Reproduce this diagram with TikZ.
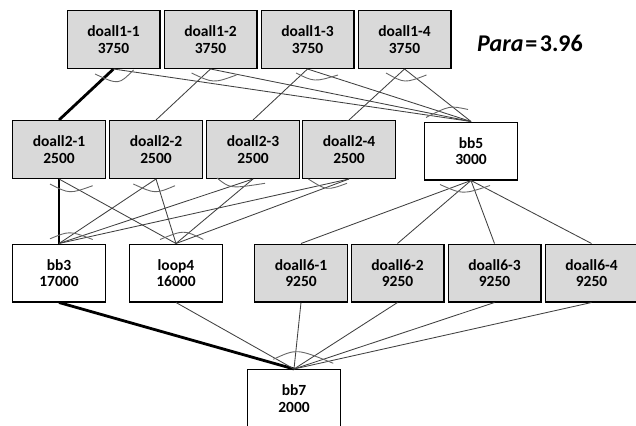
\documentclass[tikz,border=0pt]{standalone}
\usepackage{fontspec}
\setmainfont{Carlito}
\usetikzlibrary{calc}

% fork/join arc drawn round an anchor: start, middle and end offsets (pt, y down)
\newcommand\forkarc[4]{%
  \draw[andarc] ($(#1)+(#2)$) .. controls ($(#1)+1.3333*(#3)-0.1667*(#2)-0.1667*(#4)$) .. ($(#1)+(#4)$);}

\begin{document}
\begin{tikzpicture}[x=1pt,y=-1pt,
  task/.style={draw=black, line width=1.3pt, minimum width=92.7pt, minimum height=57.7pt,
    inner sep=0pt, align=center, font=\fontsize{15.5}{16.5}\selectfont\bfseries},
  partask/.style={task, fill=black!15},
  sertask/.style={task, fill=white},
  dep/.style={draw=black!75, line width=0.85pt},
  crit/.style={draw=black, line width=2.8pt},
  andarc/.style={draw=black!60, line width=0.9pt},
]
\useasboundingbox (0,0) rectangle (636,425);

% first stage
\node[partask] (d11) at (113.5,39.5) {doall1-1\\3750};
\node[partask] (d12) at (210.5,39.5) {doall1-2\\3750};
\node[partask] (d13) at (307.5,39.5) {doall1-3\\3750};
\node[partask] (d14) at (404.5,39.5) {doall1-4\\3750};

\node[anchor=base west, inner sep=0pt] (para) at (477,52)
  {\fontsize{24}{28}\selectfont\bfseries\textit{Para}\kern2pt=\kern2.5pt3.96};

% second stage
\node[partask] (d21) at (59,149.5) {doall2-1\\2500};
\node[partask] (d22) at (156,149.5) {doall2-2\\2500};
\node[partask] (d23) at (253,149.5) {doall2-3\\2500};
\node[partask] (d24) at (349,149.5) {doall2-4\\2500};
\node[sertask] (bb5) at (471,151) {bb5\\3000};

% third stage
\node[sertask] (bb3) at (59,273) {bb3\\17000};
\node[sertask] (loop4) at (176,273) {loop4\\16000};
\node[partask] (d61) at (301,273) {doall6-1\\9250};
\node[partask] (d62) at (397.5,273) {doall6-2\\9250};
\node[partask] (d63) at (494.5,273) {doall6-3\\9250};
\node[partask] (d64) at (591.5,273) {doall6-4\\9250};

% final block
\node[sertask] (bb7) at (294,398.5) {bb7\\2000};

% dependences, stage 1 -> stage 2
\draw[crit] (d11.south) -- (d21.north);
\draw[dep] (d11.south) -- (bb5.north);
\draw[dep] (d12.south) -- (d22.north);
\draw[dep] (d12.south) -- (bb5.north);
\draw[dep] (d13.south) -- (d23.north);
\draw[dep] (d13.south) -- (bb5.north);
\draw[dep] (d14.south) -- (d24.north);
\draw[dep] (d14.south) -- (bb5.north);

% stage 2 -> stage 3
\draw[crit] (d21.south) -- (bb3.north);
\draw[dep] (d21.south) -- (loop4.north);
\foreach \n in {d22,d23,d24} {
  \draw[dep] (\n.south) -- (bb3.north);
  \draw[dep] (\n.south) -- (loop4.north);
}
\foreach \n in {d61,d62,d63,d64}
  \draw[dep] (bb5.south) -- (\n.north);

% stage 3 -> final block
\draw[crit] (bb3.south) -- (bb7.north);
\foreach \n in {loop4,d61,d62,d63,d64}
  \draw[dep] (\n.south) -- (bb7.north);

% fork arcs
\forkarc{d11.south}{-18.5,5}{4,12.7}{20,1}
\forkarc{d12.south}{-19,4}{3,12}{26,6}
\forkarc{d13.south}{-11.5,4}{7.5,11}{30.5,6}
\forkarc{d14.south}{-18.5,4}{0.5,12}{22,6}
\forkarc{d21.south}{-9,5}{11,12.7}{33.7,6.7}
\forkarc{d22.south}{-22.7,5}{-1,12.7}{19,6.7}
\forkarc{d23.south}{-36,-1}{-20,7.7}{12,4.3}
\forkarc{d24.south}{-40.7,0}{-22,9.3}{-2,4.3}
\forkarc{bb5.south}{-31,4}{-7.7,11.7}{19,5}

% join arcs
\forkarc{bb5.north}{-45,-4}{-22,-14}{-3,-12}
\forkarc{bb3.north}{-9,-4.7}{11,-10.7}{33.7,-4}
\forkarc{loop4.north}{-16,-4}{7.3,-11.3}{27.3,-4}
\forkarc{bb7.north}{-20.7,-9.7}{4.3,-17.3}{39.3,-5.7}
\end{tikzpicture}
\end{document}
